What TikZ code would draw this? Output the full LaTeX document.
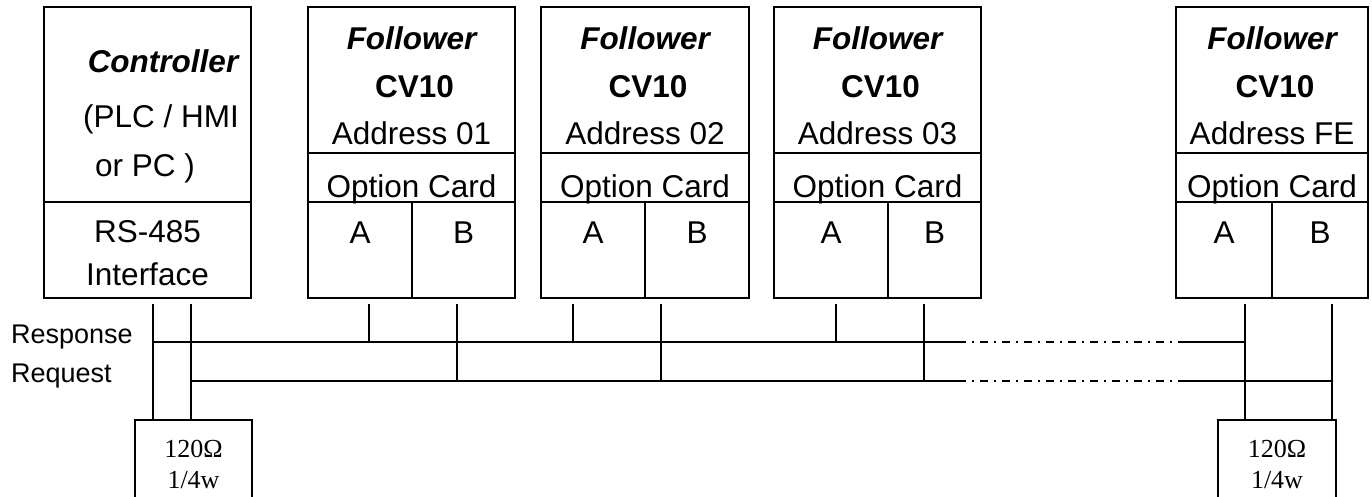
\documentclass[tikz,border=0pt]{standalone}
\usepackage{fontspec}
\setmainfont{Liberation Sans}
\newfontfamily\resfont{Liberation Serif}
\begin{document}
\begin{tikzpicture}[x=1pt,y=-1pt,
  cell/.style={draw, line width=1.7pt, inner sep=0pt, outer sep=0pt, anchor=north west},
  lbl/.style={anchor=base, inner sep=0pt, font=\fontsize{31.5}{31.5}\selectfont},
  side/.style={anchor=base west, inner sep=0pt, font=\fontsize{27}{27}\selectfont},
  res/.style={anchor=base, inner sep=0pt, font=\resfont\fontsize{26}{26}\selectfont},
  wire/.style={line width=1.3pt},
  ddash/.style={wire, dash pattern=on 8pt off 6pt on 2pt off 6pt}]
\path[use as bounding box] (0,0) rectangle (1372,497);
\clip (0,0) rectangle (1372,497);
% controller
\node[cell, minimum width=207, minimum height=195] (ctop) at (44,7) {};
\node[cell, minimum width=207, minimum height=96] (cif) at (44,202) {};
\node[lbl, font=\fontsize{31.5}{31.5}\selectfont\bfseries\itshape] (tctl) at (163,73) {Controller};
\node[lbl] (tplc) at (161,128) {(PLC / HMI};
\node[lbl] (tpc) at (145,176) {or PC )};
\node[lbl] (trs) at (147.5,242) {RS-485};
\node[lbl] (tif) at (147.5,285) {Interface};
% followers
\foreach \n/\l/\r/\s/\ad in {1/308/515/412/01, 2/541/749/645/02, 3/774/981/888/03, 4/1176/1368/1272/FE}{
  \node[cell, minimum width=\r-\l, minimum height=146] (f\n top) at (\l,7) {};
  \node[cell, minimum width=\r-\l, minimum height=49] (f\n opt) at (\l,153) {};
  \node[cell, minimum width=\s-\l, minimum height=96] (f\n a) at (\l,202) {};
  \node[cell, minimum width=\r-\s, minimum height=96] (f\n b) at (\s,202) {};
  \node[lbl, font=\fontsize{31.5}{31.5}\selectfont\bfseries\itshape] (f\n name) at ({(\l+\r)/2},50) {Follower};
  \node[lbl, font=\fontsize{31.5}{31.5}\selectfont\bfseries] (f\n cv) at ({(\l+\r)/2+3},98) {CV10};
  \node[lbl] (f\n addr) at ({(\l+\r)/2},145) {Address \ad};
  \node[lbl] (f\n card) at ({(\l+\r)/2},197) {Option Card};
  \node[lbl] (f\n ta) at ({(\l+\s)/2},243) {A};
  \node[lbl] (f\n tb) at ({(\s+\r)/2},243) {B};
}
% labels
\node[side] (lresp) at (11,343) {Response};
\node[side] (lreq) at (11,382) {Request};
% terminating resistors
\node[cell, minimum width=117, minimum height=95] (rl) at (135,420) {};
\node[cell, minimum width=118, minimum height=95] (rr) at (1218,420) {};
\node[res] (rl1) at (193.5,457) {120Ω};
\node[res] (rl2) at (193.5,488) {1/4w};
\node[res] (rr1) at (1277,457) {120Ω};
\node[res] (rr2) at (1277,488) {1/4w};
% bus taps
\coordinate (cA) at (153,304);
\coordinate (cB) at (191,304);
\coordinate (eA) at (1245,304);
\coordinate (eB) at (1332,304);
\coordinate (respY) at (0,342);
\coordinate (reqY) at (0,381);
\coordinate (d1) at (958,0);
\coordinate (d2) at (1186,0);
\draw[wire] (cA) -- (cA |- rl.north);
\draw[wire] (cB) -- (cB |- rl.north);
\draw[wire] (eA) -- (eA |- rr.north);
\draw[wire] (eB) -- (eB |- rr.north);
% response line
\draw[wire] (cA |- respY) -- (d1 |- respY);
\draw[ddash] (d1 |- respY) -- (d2 |- respY);
\draw[wire] (d2 |- respY) -- (eA |- respY);
% request line
\draw[wire] (cB |- reqY) -- (d1 |- reqY);
\draw[ddash] (d1 |- reqY) -- (d2 |- reqY);
\draw[wire] (d2 |- reqY) -- (eB |- reqY);
% follower drops
\foreach \xa/\xb in {369/457, 573/661, 836/924}{
  \coordinate (ta) at (\xa,304);
  \coordinate (tb) at (\xb,304);
  \draw[wire] (ta) -- (ta |- respY);
  \draw[wire] (tb) -- (tb |- reqY);
}
\end{tikzpicture}
\end{document}
